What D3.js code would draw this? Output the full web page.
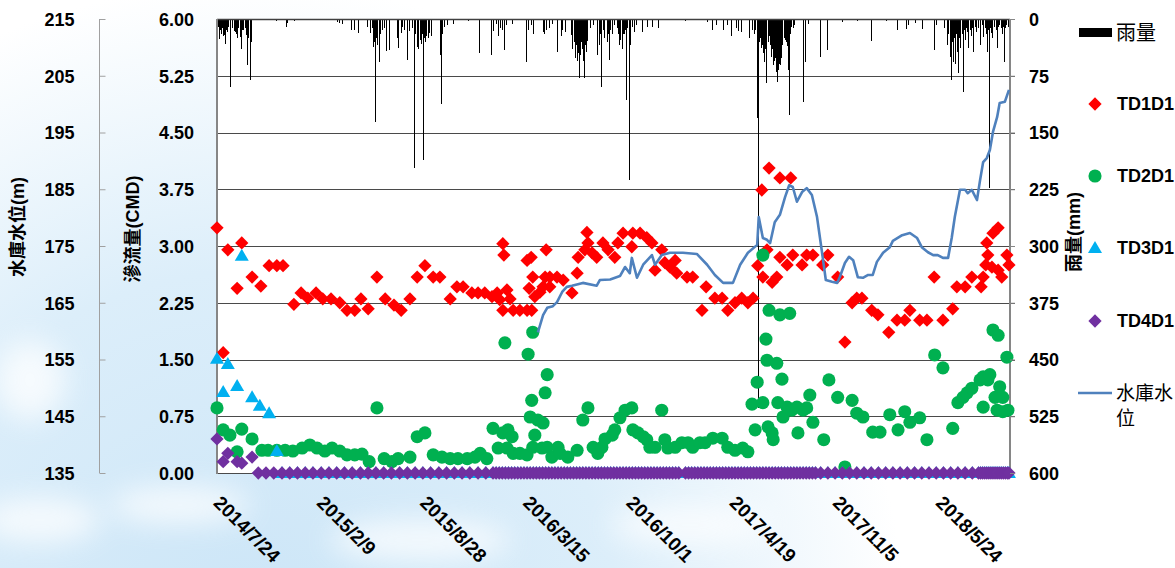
<!DOCTYPE html>
<html>
<head>
<meta charset="utf-8">
<script src="https://cdn.jsdelivr.net/npm/d3@7"></script>
<style>
  html, body { margin: 0; padding: 0; background: #fff; }
  svg { display: block; }
  text { font-family: "Liberation Sans", "Noto Sans CJK TC", sans-serif; }
</style>
</head>
<body>
<svg id="chart" width="1175" height="568"></svg>
<script>
// ---- data: observation days are counted from the first reading (2014/7/24) ----
const startDate = new Date(2014, 6, 24);
const endDate = new Date(2018, 9, 8);

const xTickLabels = ["2014/7/24", "2015/2/9", "2015/8/28", "2016/3/15", "2016/10/1", "2017/4/19", "2017/11/5", "2018/5/24"];
const flowTicks = [0, 0.75, 1.5, 2.25, 3, 3.75, 4.5, 5.25, 6];
const levelTicks = [135, 145, 155, 165, 175, 185, 195, 205, 215];
const rainTicks = [0, 75, 150, 225, 300, 375, 450, 525, 600];

// daily rainfall (mm): [day, mm]
const rainfall = [[1,18],[2,10],[4,26],[6,15],[8,20],[10,12],[12,22],[14,21],[17,33],[19,14],[21,17],[23,10],[27,90],[30,12],[33,16],[35,17],[37,20],[39,25],[42,12],[45,24],[48,40],[50,15],[52,15],[55,12],[58,21],[60,61],[62,25],[64,81],[66,30],
 [116,3],[134,10],[137,5],[151,3],[233,4],[238,5],[244,6],[260,15],[266,15],[275,18],[291,10],[297,18],[302,12],[304,37],[306,30],[308,136],[310,25],[312,35],[314,57],[317,20],[320,14],[324,12],[328,42],[335,41],[349,25],[351,38],[357,18],[360,10],[364,14],[370,54],[374,16],[378,12],[382,197],[385,20],[388,37],[391,39],[394,28],[397,33],[399,20],[401,186],[403,25],[405,30],[407,22],[409,25],[412,18],[415,23],[434,48],[436,112],[438,20],[440,10],[446,8],[459,6],[488,3],
 [508,45],[533,48],[535,16],[541,7],[545,22],[550,12],[554,14],[558,41],[562,8],[572,6],[599,57],[603,14],[610,8],[614,20],[632,17],[634,20],[638,14],[645,12],[651,6],[659,44],[667,23],[669,14],[676,17],[688,21],[690,40],[692,30],[694,52],[696,35],[698,55],[700,45],[702,78],[704,42],[705,48],[707,30],[709,40],[711,55],[713,78],[715,35],[717,44],[719,29],[723,12],[729,8],[738,48],[742,34],[744,20],[746,90],[749,15],[752,25],[756,30],[758,20],[760,54],[763,15],[766,20],[770,8],
 [777,12],[779,20],[781,34],[783,28],[785,40],[787,20],[789,20],[791,15],[793,107],[796,12],[800,213],[802,34],[806,10],[810,17],[814,8],[824,17],[835,10],[845,10],[855,12],[909,3],[950,4],[961,15],[969,8],[981,14],[990,8],[998,23],[1006,12],[1010,16],[1016,17],[1033,25],[1037,14],[1041,20],[1044,15],[1047,38],[1048,131],[1050,514],[1052,30],[1054,25],[1056,38],[1058,34],[1060,45],[1062,57],[1064,40],[1066,85],[1068,30],[1070,23],[1072,35],[1074,50],[1076,40],[1078,35],[1079,61],[1081,55],[1083,52],[1085,70],[1087,83],[1089,67],[1091,60],[1093,61],[1095,52],[1097,34],[1099,25],[1101,28],[1103,30],[1105,36],[1107,67],[1109,127],[1111,20],[1114,10],[1117,12],[1120,8],[1136,110],[1141,57],[1147,6],[1169,50],[1184,41],[1213,4],[1242,3],[1269,29],[1298,3],[1318,15],[1337,13],[1341,8],[1353,5],[1368,13],[1390,41],[1395,8],
 [1410,12],[1415,34],[1418,20],[1421,50],[1424,81],[1426,30],[1428,57],[1430,25],[1432,60],[1434,20],[1436,44],[1438,72],[1440,25],[1442,38],[1444,20],[1446,96],[1448,15],[1450,28],[1452,12],[1454,17],[1457,38],[1460,15],[1463,22],[1465,12],[1467,44],[1470,10],[1473,17],[1476,12],[1479,34],[1483,8],[1486,24],[1489,12],[1492,20],[1494,44],[1496,15],[1498,223],[1500,12],[1502,18],[1504,25],[1507,10],[1510,15],[1512,38],[1515,10],[1517,8],[1520,12],[1523,20],[1525,10],[1527,57],[1529,12],[1531,8],[1534,10]];

// seepage readings (CMD): [day, value]
const td1d1 = [[0,3.24],[12,1.59],[21,2.95],[39,2.44],[48,3.04],[68,2.59],[85,2.47],[101,2.74],[116,2.74],[128,2.74],[149,2.23],[163,2.38],[176,2.31],[192,2.38],[205,2.30],[221,2.30],[238,2.25],[252,2.15],[267,2.15],[279,2.30],[293,2.17],[310,2.59],[326,2.30],[343,2.22],[357,2.15],[374,2.30],[388,2.59],[403,2.74],[419,2.59],[432,2.59],[452,2.30],[465,2.46],[477,2.46],[494,2.38],[506,2.38],[519,2.38],[533,2.33],[543,2.38],[548,2.29],[554,3.03],[556,2.88],[554,2.15],[562,2.42],[568,2.30],[574,2.15],[587,2.15],[601,2.15],[610,2.15],[601,2.81],[609,2.85],[605,2.44],[612,2.59],[616,2.33],[626,2.39],[632,2.46],[636,2.59],[638,2.95],[645,2.59],[645,2.46],[659,2.59],[671,2.55],[688,2.38],[698,2.64],[700,2.85],[713,2.95],[717,3.18],[719,3.04],[727,2.91],[736,2.85],[748,3.04],[758,2.95],[771,2.85],[777,3.04],[787,3.17],[804,2.99],[806,3.17],[820,3.17],[833,3.11],[843,3.04],[849,2.68],[862,2.95],[868,2.78],[878,2.72],[888,2.81],[891,2.64],[911,2.59],[922,2.59],[940,2.15],[948,2.46],[965,2.31],[979,2.31],[990,2.15],[1004,2.25],[1017,2.31],[1029,2.25],[1039,2.31],[1048,2.74],[1056,3.74],[1058,2.59],[1066,2.95],[1070,4.03],[1076,2.52],[1085,2.59],[1091,2.85],[1091,3.90],[1105,2.75],[1112,3.90],[1116,2.88],[1134,2.75],[1143,2.88],[1155,2.88],[1174,2.75],[1184,2.88],[1203,2.59],[1217,1.73],[1231,2.25],[1240,2.31],[1250,2.31],[1269,2.15],[1281,2.09],[1302,1.86],[1318,2.02],[1333,2.02],[1343,2.15],[1362,2.02],[1376,2.02],[1390,2.59],[1407,2.02],[1426,2.17],[1434,2.46],[1450,2.46],[1463,2.59],[1481,2.46],[1485,2.59],[1490,2.75],[1492,3.04],[1494,2.88],[1502,2.72],[1504,3.17],[1514,3.24],[1514,2.68],[1521,2.59],[1531,2.88],[1535,2.75]];

const td2d1 = [[0,0.86],[12,0.57],[25,0.50],[39,0.28],[48,0.58],[68,0.45],[87,0.30],[99,0.30],[116,0.30],[132,0.30],[147,0.29],[165,0.33],[180,0.37],[194,0.33],[209,0.29],[223,0.33],[238,0.29],[252,0.24],[267,0.24],[281,0.25],[295,0.15],[310,0.86],[324,0.19],[339,0.15],[351,0.19],[374,0.21],[388,0.48],[403,0.53],[419,0.24],[436,0.21],[452,0.19],[467,0.19],[485,0.19],[500,0.21],[510,0.26],[523,0.19],[535,0.59],[545,0.33],[554,0.53],[558,1.72],[562,0.33],[564,0.57],[572,0.48],[574,0.26],[587,0.26],[601,0.24],[603,1.57],[607,0.74],[610,0.96],[612,1.86],[612,0.34],[616,0.50],[622,0.70],[630,0.33],[632,0.66],[636,1.06],[640,1.30],[640,0.34],[649,0.21],[661,0.34],[665,0.26],[680,0.21],[698,0.30],[709,0.70],[719,0.86],[729,0.34],[738,0.26],[746,0.34],[752,0.45],[766,0.50],[771,0.57],[781,0.73],[791,0.83],[804,0.86],[806,0.57],[816,0.53],[826,0.48],[833,0.44],[839,0.34],[849,0.34],[862,0.83],[868,0.44],[874,0.33],[888,0.34],[901,0.40],[913,0.40],[922,0.34],[936,0.40],[946,0.40],[961,0.46],[979,0.46],[990,0.34],[1004,0.30],[1019,0.33],[1029,0.28],[1037,0.91],[1043,0.57],[1047,1.20],[1058,2.88],[1058,0.93],[1064,1.77],[1066,1.49],[1068,0.61],[1070,2.15],[1076,0.53],[1078,0.44],[1085,1.45],[1087,0.93],[1091,2.09],[1095,1.24],[1097,0.74],[1105,0.87],[1110,2.11],[1114,0.83],[1124,0.87],[1126,0.53],[1136,0.83],[1143,0.86],[1149,1.03],[1155,0.67],[1176,0.44],[1186,1.23],[1203,1.00],[1217,0.08],[1231,0.96],[1240,0.79],[1252,0.74],[1271,0.54],[1285,0.54],[1304,0.77],[1320,0.57],[1333,0.81],[1343,0.67],[1362,0.73],[1376,0.44],[1391,1.56],[1407,1.39],[1426,0.59],[1436,0.93],[1446,1.00],[1454,1.06],[1463,1.12],[1479,1.23],[1485,1.27],[1485,0.87],[1494,1.23],[1498,1.30],[1504,1.89],[1508,1.00],[1512,0.83],[1514,1.82],[1517,1.14],[1523,1.00],[1523,0.81],[1531,1.53],[1533,0.83]];

const td3d1Readings = [[0,1.51],[12,1.07],[21,1.44],[39,1.15],[48,2.87],[68,1.00],[83,0.89],[101,0.79],[116,0.29]];
const td4d1Readings = [[0,0.45],[12,0.15],[21,0.26],[39,0.15],[48,0.13],[68,0.21]];

// days on which TD3D1 / TD4D1 read zero flow
const zeroDays = [80,95,110,126,141,156,171,186,202,217,232,247,262,278,293,308,323,338,354,369,384,399,414,430,445,460,475,490,506,521,
 535,541,547,553,559,565,571,577,583,589,595,601,607,613,619,625,631,637,643,649,655,661,667,673,679,685,691,697,703,709,715,721,727,733,739,745,751,757,763,769,775,781,787,793,799,805,811,817,823,829,835,841,847,853,859,865,871,877,883,889,895,908,914,920,926,932,938,944,950,956,962,968,974,980,986,992,998,1004,1010,1016,1022,1028,1034,1040,1046,1052,1058,1064,1070,1076,1082,1088,1094,1100,1106,1112,1118,1124,1130,1136,1142,1148,1154,1160,
 1170,1184,1198,1212,1226,1240,1254,1268,1282,1296,1310,1324,1338,1352,1366,1380,1394,1408,1422,1436,1450,1464,
 1476,1480,1484,1488,1492,1496,1500,1504,1508,1512,1516,1520,1524,1528,1532,1535];

// reservoir water level (m): [day, level]
const waterLevel = [[622,159.8],[632,162.8],[640,164.1],[651,164.4],[659,165.1],[669,166.9],[678,167.8],[688,168.0],[709,168.5],[736,168.0],[742,169.0],[762,169.1],[781,169.7],[791,171.3],[800,170.2],[804,172.9],[814,169.4],[826,171.7],[843,173.4],[849,171.7],[862,173.4],[878,173.8],[903,173.8],[930,173.6],[950,171.7],[965,169.9],[981,168.5],[1000,168.5],[1014,171.7],[1029,173.8],[1047,175.2],[1050,180.1],[1058,176.4],[1066,176.1],[1072,175.5],[1081,179.2],[1091,180.5],[1101,183.6],[1109,185.7],[1116,185.4],[1124,182.8],[1134,184.5],[1143,185.2],[1153,184.0],[1163,180.1],[1172,174.3],[1180,169.0],[1192,168.7],[1202,168.5],[1207,169.5],[1217,172.0],[1225,173.1],[1233,172.5],[1242,169.5],[1252,169.4],[1262,169.9],[1271,169.9],[1279,172.2],[1291,173.8],[1304,174.8],[1310,175.9],[1328,176.9],[1343,177.3],[1357,176.4],[1366,174.8],[1378,173.9],[1388,173.4],[1397,173.4],[1407,172.9],[1417,172.9],[1424,176.4],[1430,180.1],[1440,184.9],[1450,184.9],[1455,184.3],[1463,184.9],[1473,183.1],[1479,186.6],[1485,189.8],[1492,190.5],[1498,191.9],[1504,195.1],[1512,197.7],[1517,200.2],[1527,200.4],[1535,202.5]];

// ---- layout ----
const W = 1175, H = 568;
const plot = { left: 217, right: 1010, top: 19, bottom: 473 };
const colors = { td1: "#ff0000", td2: "#00b050", td3: "#00b0f0", td4: "#7030a0", level: "#4f81bd", rain: "#000000" };

const svg = d3.select("#chart");
const day = d => d3.timeDay.offset(startDate, d);

const x = d3.scaleTime().domain([startDate, endDate]).range([plot.left, plot.right]);
const yFlow = d3.scaleLinear().domain([0, 6]).range([plot.bottom, plot.top]);
const yLevel = d3.scaleLinear().domain([135, 215]).range([plot.bottom, plot.top]);
const yRain = d3.scaleLinear().domain([0, 600]).range([plot.top, plot.bottom]);

// ---- background ----
const defs = svg.append("defs");
const sky = defs.append("radialGradient").attr("id", "sky")
  .attr("gradientUnits", "userSpaceOnUse").attr("cx", 250).attr("cy", 640).attr("r", 820);
sky.append("stop").attr("offset", 0).attr("stop-color", "#cbe5f7");
sky.append("stop").attr("offset", 0.45).attr("stop-color", "#dceefa");
sky.append("stop").attr("offset", 0.8).attr("stop-color", "#ffffff");
const cloud = defs.append("filter").attr("id", "cloud").attr("x", "-50%").attr("y", "-50%").attr("width", "200%").attr("height", "200%");
cloud.append("feGaussianBlur").attr("stdDeviation", 14);

svg.append("rect").attr("width", W).attr("height", H).attr("fill", "url(#sky)");
const clouds = svg.append("g").attr("filter", "url(#cloud)").attr("fill", "#ffffff").attr("opacity", 0.75);
[[40, 520, 60, 22], [180, 505, 70, 18], [420, 540, 90, 20], [690, 525, 80, 18], [1080, 520, 90, 35], [30, 380, 35, 40]]
  .forEach(([cx, cy, rx, ry]) => clouds.append("ellipse").attr("cx", cx).attr("cy", cy).attr("rx", rx).attr("ry", ry));

// ---- plot area ----
svg.append("rect")
  .attr("x", plot.left).attr("y", plot.top)
  .attr("width", plot.right - plot.left).attr("height", plot.bottom - plot.top)
  .attr("fill", "#ffffff");

// horizontal grid (extends slightly past the right edge as the rainfall axis ticks)
svg.append("g").attr("shape-rendering", "crispEdges")
  .selectAll("line").data(flowTicks).join("line")
  .attr("x1", plot.left).attr("x2", plot.right + 5)
  .attr("y1", d => Math.round(yFlow(d)) + 0.5).attr("y2", d => Math.round(yFlow(d)) + 0.5)
  .attr("stroke", "#4a4a4a").attr("stroke-width", 1);

// rainfall bars hanging from the top
svg.append("g").attr("shape-rendering", "crispEdges")
  .selectAll("rect").data(rainfall).join("rect")
  .attr("x", d => x(day(d[0])) - 0.5)
  .attr("width", 1)
  .attr("y", plot.top)
  .attr("height", d => yRain(d[1]) - plot.top)
  .attr("fill", colors.rain);

// plot border
svg.append("line").attr("x1", plot.left).attr("x2", plot.right).attr("y1", plot.top + 0.5).attr("y2", plot.top + 0.5)
  .attr("stroke", "#404040").attr("stroke-width", 1.5);
svg.append("line").attr("x1", plot.left).attr("x2", plot.left).attr("y1", plot.top).attr("y2", plot.bottom + 1)
  .attr("stroke", "#868686").attr("stroke-width", 2);
svg.append("line").attr("x1", plot.right).attr("x2", plot.right).attr("y1", plot.top).attr("y2", plot.bottom + 1)
  .attr("stroke", "#868686").attr("stroke-width", 2);

// ---- markers ----
const diamond = d3.symbol().type(d3.symbolSquare).size(88)();
const circle = d3.symbol().type(d3.symbolCircle).size(135)();
const triangle = "M0,-7L7,5L-7,5Z";

function drawSeries(data, path, fill, rotate) {
  svg.append("g").selectAll("path").data(data).join("path")
    .attr("d", path)
    .attr("transform", d => `translate(${x(day(d[0]))},${yFlow(d[1])})` + (rotate ? " rotate(45)" : ""))
    .attr("fill", fill);
}

const td3d1 = td3d1Readings.concat(zeroDays.filter(d => d > 116).map(d => [d, 0]));
const td4d1 = td4d1Readings.concat(zeroDays.map(d => [d, 0]));

drawSeries(td1d1, diamond, colors.td1, true);
drawSeries(td2d1, circle, colors.td2, false);
drawSeries(td3d1, triangle, colors.td3, false);
drawSeries(td4d1, diamond, colors.td4, true);

// reservoir level line
svg.append("path").datum(waterLevel)
  .attr("fill", "none").attr("stroke", colors.level).attr("stroke-width", 2.6)
  .attr("stroke-linejoin", "round")
  .attr("d", d3.line().x(d => x(day(d[0]))).y(d => yLevel(d[1])));

// ---- axes ----
const labelFont = g => g.selectAll("text")
  .attr("font-size", 18).attr("font-weight", "bold").attr("fill", "#000");

// seepage flow axis (labels only, left of the plot)
svg.append("g").attr("transform", `translate(${plot.left},0)`)
  .call(d3.axisLeft(yFlow).tickValues(flowTicks).tickFormat(d3.format(".2f")).tickSize(0).tickPadding(23))
  .call(g => g.select(".domain").remove())
  .call(labelFont)
  .call(g => g.selectAll("text").attr("dy", "0.36em"));

// reservoir level axis (detached, further left)
svg.append("g").attr("transform", "translate(99.5,0)")
  .call(d3.axisRight(yLevel).tickValues(levelTicks).tickSize(6))
  .call(g => g.select(".domain").attr("stroke", "#a0a0a0").attr("d", `M0,${plot.top}V${plot.bottom}`))
  .call(g => g.selectAll(".tick line").attr("stroke", "#a0a0a0"))
  .call(labelFont)
  .call(g => g.selectAll("text").attr("x", -25).attr("text-anchor", "end").attr("dy", "0.36em"));

// rainfall axis (right)
svg.append("g").attr("transform", `translate(${plot.right},0)`)
  .call(d3.axisRight(yRain).tickValues(rainTicks).tickSize(5).tickPadding(14))
  .call(g => g.select(".domain").remove())
  .call(g => g.selectAll(".tick line").attr("stroke", "#868686"))
  .call(labelFont)
  .call(g => g.selectAll("text").attr("dy", "0.36em"));

// date axis with slanted labels
const parseTick = d3.timeParse("%Y/%m/%d");
const xTicks = xTickLabels.map(parseTick);
svg.append("g").attr("transform", `translate(0,${plot.bottom})`)
  .call(d3.axisBottom(x).tickValues(xTicks).tickFormat((d, i) => xTickLabels[i]).tickSize(0))
  .call(g => g.select(".domain").remove())
  .call(labelFont)
  .call(g => g.selectAll("text")
    .attr("font-size", 19)
    .attr("text-anchor", "start").attr("y", 0).attr("dy", 0)
    .attr("transform", "translate(-5,31) rotate(45)"));

// axis titles
function title(txt, tx, ty) {
  svg.append("text").attr("transform", `translate(${tx},${ty}) rotate(-90)`)
    .attr("text-anchor", "middle").attr("dy", "0.36em")
    .attr("font-size", 18).attr("font-weight", "bold").text(txt);
}
title("水庫水位(m)", 18, 227);
title("滲流量(CMD)", 133, 229);
title("雨量(mm)", 1074, 232);

// ---- legend ----
const legend = svg.append("g");
legend.append("rect").attr("x", 1079).attr("y", 28).attr("width", 33).attr("height", 9).attr("fill", colors.rain);
legend.append("text").attr("x", 1116).attr("y", 33).attr("dy", "0.36em").attr("font-size", 20).text("雨量");

const legendItems = [
  { name: "TD1D1", path: diamond, fill: colors.td1, rotate: true, y: 104 },
  { name: "TD2D1", path: circle, fill: colors.td2, rotate: false, y: 176 },
  { name: "TD3D1", path: triangle, fill: colors.td3, rotate: false, y: 248 },
  { name: "TD4D1", path: diamond, fill: colors.td4, rotate: true, y: 321 }
];
legendItems.forEach(it => {
  legend.append("path").attr("d", it.path).attr("fill", it.fill)
    .attr("transform", `translate(1095,${it.y})` + (it.rotate ? " rotate(45)" : ""));
  legend.append("text").attr("x", 1117).attr("y", it.y).attr("dy", "0.36em")
    .attr("font-size", 18).attr("font-weight", "bold").text(it.name);
});
legend.append("line").attr("x1", 1078).attr("x2", 1112).attr("y1", 393).attr("y2", 393)
  .attr("stroke", colors.level).attr("stroke-width", 2.6);
legend.append("text").attr("x", 1116).attr("y", 393).attr("dy", "0.36em").attr("font-size", 19).text("水庫水");
legend.append("text").attr("x", 1116).attr("y", 418).attr("dy", "0.36em").attr("font-size", 19).text("位");
</script>
</body>
</html>
